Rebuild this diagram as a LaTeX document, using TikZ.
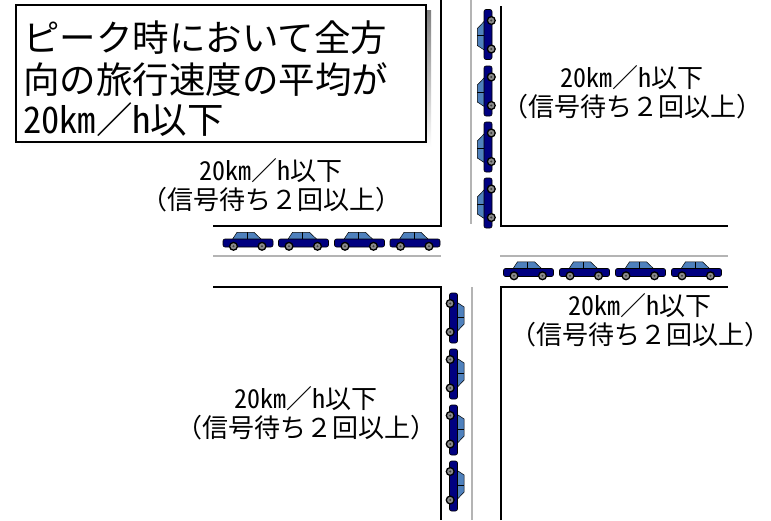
\documentclass[tikz,border=0pt]{standalone}
\usepackage{fontspec}
\newfontfamily\jp{Noto Sans CJK JP}
% half-width Latin letters and digits, as in a monospaced Gothic face
\newcommand\hwtext[1]{{\addfontfeatures{RawFeature=+hwid}#1}}
\newcommand\speedtext{\hwtext{20km}／\hwtext{h}以下}
\definecolor{carbody}{HTML}{000080}
\definecolor{carglass}{HTML}{4F81BD}
\definecolor{kerb}{HTML}{B4B4B4}
\definecolor{shade}{HTML}{EDEDE8}

\begin{document}
\begin{tikzpicture}[x=1pt,y=1pt,
  wall/.style={line width=1.5pt, draw=black},
  lane/.style={line width=1.5pt, draw=kerb},
  titletext/.style={font=\jp\fontsize{36.5}{42}\selectfont, inner sep=0pt, anchor=west},
  roadlabel/.style={font=\jp\fontsize{26}{29.5}\selectfont, inner sep=0pt, align=center},
  car/.pic={
    % windows
    \draw[line width=0.5pt, fill=carglass] (-16,3) -- (-11,10.7) -- (6,10.7) -- (14,3) -- cycle;
    \draw[line width=0.5pt] (-1,3) -- (-1,10.7);
    % body
    \draw[line width=0.6pt, fill=carbody, rounded corners=2pt] (-25,-4) rectangle (25,4);
    % wheels
    \foreach \wx in {-14.5,14} {
      \filldraw[fill=black!45, draw=black, line width=1.3pt] (\wx,-3.3) circle (3.9);
      \fill[black!75] (\wx,-3.3) circle (1.1);
    }
  }
]
\useasboundingbox (0,0) rectangle (771,-520);
\fill[white] (0,0) rectangle (771,-520);

% title panel with its shadow
\fill[shade] (21,-10) rectangle (431,-147);
\draw[line width=1.5pt, fill=white] (16,-5) rectangle (426,-142);
\node[titletext] (t1) at (23,-37.5) {ピーク時において全方};
\node[titletext] (t2) at (23,-80) {向の旅行速度の平均が};
\node[titletext] (t3) at (23,-120) {\speedtext};

% kerb lines of the four blocks
\draw[wall] (441,0) -- (441,-226) -- (213,-226);
\draw[wall] (501,-6) -- (501,-226) -- (728,-226);
\draw[wall] (213,-287) -- (441,-287) -- (441,-520);
\draw[wall] (501,-520) -- (501,-287) -- (728,-287);

% centre lines
\draw[lane] (471,0) -- (471,-224);
\draw[lane] (213,-256) -- (441,-256);
\draw[lane] (500,-256) -- (728,-256);
\draw[lane] (472,-287) -- (472,-520);

% queues of cars
\foreach \cx in {248,303.5,359.5,415}
  \pic at (\cx,-243) {car};
\foreach \cx in {528.5,584.5,640.5,696.5}
  \pic at (\cx,-272.5) {car};
\foreach \cy in {34.5,91,147,203}
  \pic[rotate=90] at (488,-\cy) {car};
\foreach \cy in {318,374,430,486}
  \pic[rotate=-90] at (453.5,-\cy) {car};

% speed labels
\node[roadlabel] (lnw) at (271,-185) {\speedtext\\（信号待ち２回以上）};
\node[roadlabel] (lne) at (632,-92) {\speedtext\\（信号待ち２回以上）};
\node[roadlabel] (lse) at (640,-320) {\speedtext\\（信号待ち２回以上）};
\node[roadlabel] (lsw) at (306,-413) {\speedtext\\（信号待ち２回以上）};
\end{tikzpicture}
\end{document}
